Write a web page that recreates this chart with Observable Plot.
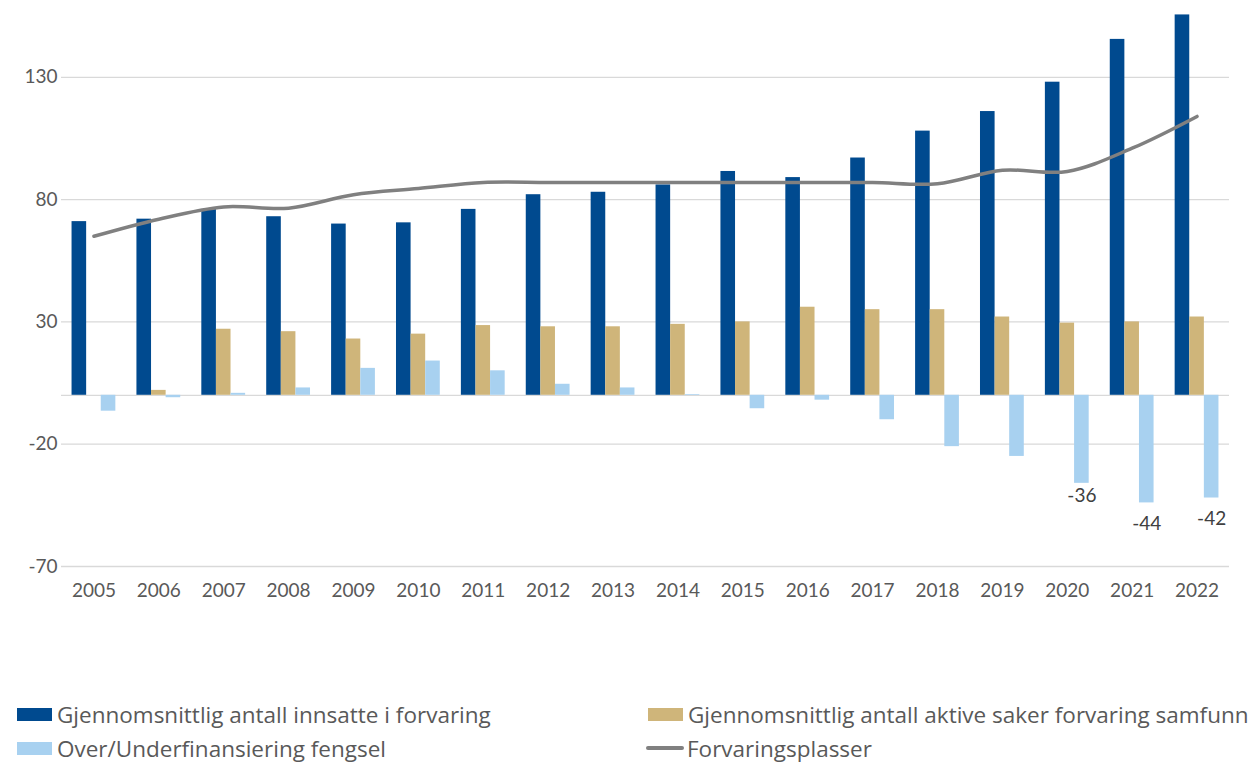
<!DOCTYPE html>
<html><head><meta charset="utf-8">
<script src="https://cdn.jsdelivr.net/npm/d3@7"></script>
<script src="https://cdn.jsdelivr.net/npm/@observablehq/plot@0.6"></script>
<style>
body{margin:0;background:#fff;overflow:hidden;font-family:Lato,"Open Sans",sans-serif;}
#wrap{position:relative;width:1251px;height:763px;overflow:hidden;}
#chart{position:absolute;left:0;top:0;}
.leg{position:absolute;display:flex;align-items:center;font-family:"Open Sans",sans-serif;font-size:22.5px;color:#595959;white-space:nowrap;height:26px;}
.sw{width:35px;height:13px;margin-right:5px;flex:none;}
.ln{width:38px;height:4px;margin-right:3px;background:#808080;flex:none;border-radius:2px;}
</style></head><body><div id="wrap"><div id="chart"></div></div>
<script>
const years = ["2005","2006","2007","2008","2009","2010","2011","2012","2013","2014","2015","2016","2017","2018","2019","2020","2021","2022"];
const innsatte = [71,72,76,73,70,70.5,76,82,83,86,91.5,89,97,108,116,128,145.5,155.5];
const aktive = [0,2,27,26,23,25,28.5,28,28,29,30,36,35,35,32,29.5,30,32];
const finansiering = [-6.5,-1,0.8,3,11,14,10,4.5,3,0.3,-5.5,-2,-10,-21,-25,-36,-44,-42];
const plasser = [65,72,77,76.5,82,84.5,87,87,87,87,87,87,87,86.5,92,91.5,101,114];
const yTicks = [-70,-20,30,80,130];
const seriesNames = ["Gjennomsnittlig antall innsatte i forvaring","Gjennomsnittlig antall aktive saker forvaring samfunn","Over/Underfinansiering fengsel","Forvaringsplasser"];
const colors = ["#004a8f","#cfb57a","#a8d1f0","#808080"];

const W = 1251, ML = 61, MR = 22;
const bw = (W - ML - MR) / years.length;
const barW = 14.6;
const inset = (bw - barW) / 2;

const mk = (vals) => years.map((y, i) => ({year: y, value: vals[i]}));
const dInn = mk(innsatte), dAkt = mk(aktive), dFin = mk(finansiering), dPl = mk(plasser);

const chart = Plot.plot({
  width: W, height: 640,
  marginLeft: ML, marginRight: MR, marginTop: 0, marginBottom: 74,
  style: {fontFamily: "Lato, 'Open Sans', sans-serif", fontSize: "19px", color: "#595959", background: "transparent"},
  x: {domain: years, padding: 0, round: false, tickSize: 0, tickPadding: 17, label: null},
  y: {domain: [-70, 161.4], ticks: yTicks, tickSize: 0, tickPadding: 4, label: null, tickFormat: d => String(d)},
  marks: [
    Plot.ruleY(yTicks, {stroke: "#d9d9d9", strokeWidth: 1.3}),
    Plot.ruleY([0], {stroke: "#d9d9d9", strokeWidth: 1.3}),
    Plot.barY(dInn, {x: "year", y: "value", fill: colors[0], insetLeft: inset, insetRight: inset, dx: -barW}),
    Plot.barY(dAkt, {x: "year", y: "value", fill: colors[1], insetLeft: inset, insetRight: inset}),
    Plot.barY(dFin, {x: "year", y: "value", fill: colors[2], insetLeft: inset, insetRight: inset, dx: barW}),
    Plot.line(dPl, {x: "year", y: "value", stroke: colors[3], strokeWidth: 3.5, curve: "catmull-rom"}),
    Plot.text(dFin.filter(d => d.year === "2020"), {x: "year", y: "value", text: d => String(d.value), dx: barW, dy: 13, fill: "#404040", fontSize: 19}),
    Plot.text(dFin.filter(d => d.year === "2021" || d.year === "2022"), {x: "year", y: "value", text: d => String(d.value), dx: barW, dy: 21, fill: "#404040", fontSize: 19})
  ]
});
document.getElementById("chart").appendChild(chart);

const wrap = document.getElementById("wrap");
const legPos = [[17, 701, "sw"], [648, 701, "sw"], [17, 735, "sw"], [646, 735, "ln"]];
seriesNames.forEach((name, i) => {
  const [x, y, kind] = legPos[i];
  const item = document.createElement("div");
  item.className = "leg";
  item.style.left = x + "px";
  item.style.top = y + "px";
  const sw = document.createElement("span");
  sw.className = kind;
  if (kind === "sw") sw.style.background = colors[i];
  const t = document.createElement("span");
  t.textContent = name;
  item.appendChild(sw); item.appendChild(t);
  wrap.appendChild(item);
});
</script></body></html>
